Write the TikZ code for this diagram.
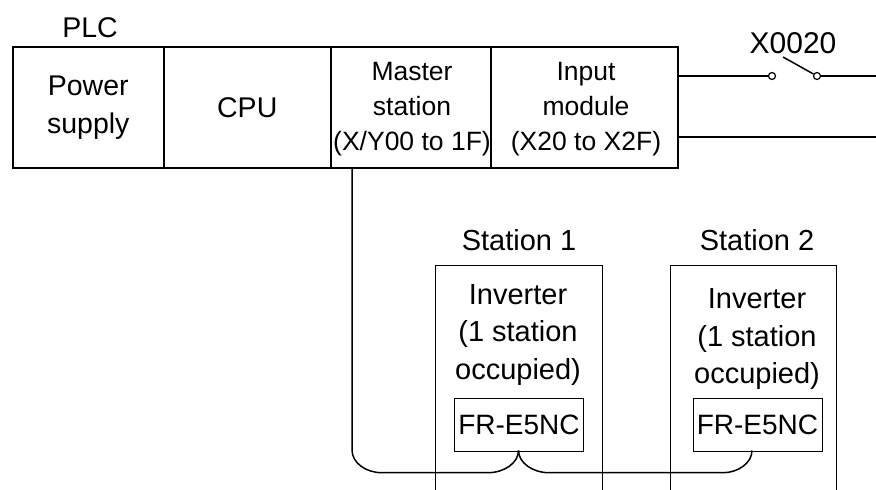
\documentclass[tikz,border=0pt]{standalone}
\usepackage{fontspec}
\setmainfont{Liberation Sans}
\tikzset{
 x=1pt,y=-1pt,
 cell/.style={draw=black,line width=1.5pt,minimum height=121pt,inner sep=0pt,align=center,anchor=north west,font=\fontsize{28.5}{38}\selectfont},
 celltext/.style={inner sep=0pt,align=center,font=\fontsize{26.5}{35}\selectfont},
 label/.style={inner sep=0pt,font=\fontsize{29}{36}\selectfont},
 stationbody/.style={inner sep=0pt,anchor=north west},
 bodytext/.style={inner sep=0pt,align=center,font=\fontsize{29}{37.5}\selectfont},
 nc/.style={draw=black,line width=1pt,inner sep=0pt,minimum width=129pt,minimum height=53pt,anchor=north west,font=\fontsize{28}{34}\selectfont},
 wire/.style={line width=1.5pt,line cap=butt},
 thin wire/.style={line width=1pt},
 contact/.style={circle,draw=black,line width=1.2pt,fill=white,minimum size=7pt,inner sep=0pt},
}
\begin{document}
\begin{tikzpicture}
\useasboundingbox (0,0) rectangle (876,490);
\node[cell,minimum width=151pt] (ps) at (12,46) {Power\\supply};
\node[cell,minimum width=167pt] (cpu) at (163,46) {CPU};
\node[cell,minimum width=160pt] (ms) at (330,46) {};
\node[cell,minimum width=187pt] (im) at (490,46) {};
\node[celltext] (mst) at (412,109.5) {Master\\station\\(X/Y00 to 1F)};
\node[celltext] (imt) at (586,109.5) {Input\\module\\(X20 to X2F)};
\node[label,font=\fontsize{28.5}{36}\selectfont] (plc) at (90,28) {PLC};
\node[label,font=\fontsize{30}{36}\selectfont] (x20) at (793,43) {X0020};
\node[contact] (c1) at (772,76) {};
\node[contact] (c2) at (817,76) {};
\coordinate (r1) at (876,76);
\coordinate (r2) at (876,137);
\coordinate (l2) at (677,137);
\coordinate (l1) at (677,76);
\coordinate (blade) at (783,57);
\draw[wire] (l1) -- (c1);
\draw[wire] (c2) -- (r1);
\draw[wire] (l2) -- (r2);
\draw[wire] (blade) -- (c2);
% stations
\node[label] (s1) at (519,240) {Station 1};
\node[label] (s2) at (757,240) {Station 2};
\node[stationbody,minimum width=167pt,minimum height=225pt] (b1) at (435,265) {};
\node[stationbody,minimum width=166pt,minimum height=225pt] (b2) at (670,265) {};
\draw[thin wire] (b1.south west) |- (b1.north east) -- (b1.south east);
\draw[thin wire] (b2.south west) |- (b2.north east) -- (b2.south east);
\node[bodytext] (t1) at (518,335) {Inverter\\(1 station\\occupied)};
\node[bodytext] (t2) at (757,339.5) {Inverter\\(1 station\\occupied)};
\node[nc] (n1) at (454,398) {FR-E5NC};
\node[nc] (n2) at (692.5,398) {FR-E5NC};
% bus
\coordinate (msdrop) at (352,167);
\coordinate (n1b) at (518.5,450.5);
\coordinate (n2b) at (752,450.5);
\draw[wire] (msdrop) -- (352,450) .. controls (352,463) and (366,472.7) .. (382,472.7) -- (488,472.7) .. controls (504,472.7) and (518.5,463) .. (n1b);
\draw[wire] (n1b) .. controls (518.5,463) and (533,472.7) .. (549,472.7) -- (723,472.7) .. controls (738,472.7) and (752,463) .. (n2b);
\end{tikzpicture}
\end{document}
